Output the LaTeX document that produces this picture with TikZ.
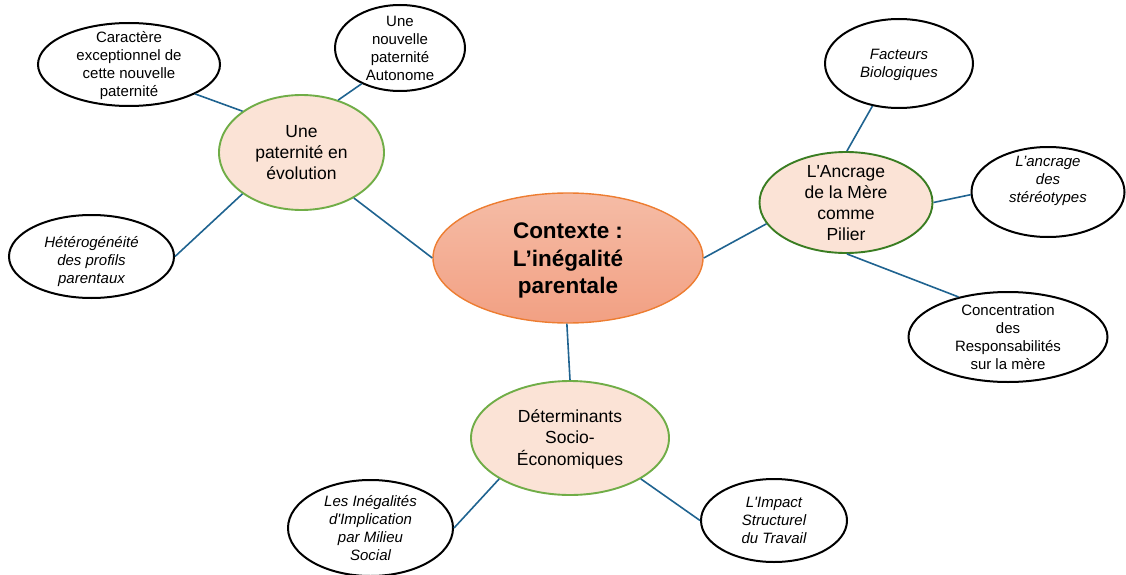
\documentclass[tikz,border=0pt]{standalone}
\usepackage{fontspec}
\setmainfont{Liberation Sans}
\usetikzlibrary{shapes.geometric}
\definecolor{linkblue}{HTML}{1F6390}
\definecolor{peach}{HTML}{FBE3D6}
\definecolor{leafgreen}{HTML}{70AD47}
\definecolor{darkgreen}{HTML}{3A7D22}
\definecolor{salmontop}{HTML}{F5BCA6}
\definecolor{salmonbot}{HTML}{F2A083}
\definecolor{salmonline}{HTML}{ED7D31}
\newcommand{\bubbletext}[2][-0.36em]{\smash{\raisebox{#1}{\begin{tabular}[c]{@{}c@{}}#2\end{tabular}}}}
\tikzset{
	leaf/.style={ellipse, draw=black, line width=2pt, fill=white, inner sep=0pt, font=\fontsize{15}{18}\selectfont},
	leafit/.style={leaf, font=\fontsize{15}{18}\selectfont\itshape},
	branch/.style={ellipse, draw=leafgreen, line width=1.9pt, fill=peach, inner sep=0pt, font=\fontsize{17.5}{21}\selectfont},
	link/.style={draw=linkblue, line width=1.6pt}
}

\begin{document}
\begin{tikzpicture}[x=1pt, y=-1pt]
		\useasboundingbox (0,0) rectangle (1126,575);
		\node[ellipse, draw=salmonline, line width=1.4pt, top color=salmontop, bottom color=salmonbot, inner sep=0pt, minimum width=270pt, minimum height=130pt, font=\fontsize{22.5}{27.5}\selectfont\bfseries] (Context) at (568,258) {\bubbletext{Contexte :\\L’inégalité\\parentale}};
		\node[branch, minimum width=165pt, minimum height=115pt] (Evolution) at (301.5,152.5) {\bubbletext{Une\\paternité en\\évolution}};
		\node[branch, draw=darkgreen, minimum width=173pt, minimum height=101pt] (Anchor) at (846,202.5) {\bubbletext{L\textquotesingle Ancrage\\de la Mère\\comme\\Pilier}};
		\node[branch, minimum width=198pt, minimum height=114pt] (Determinants) at (570,438) {\bubbletext{Déterminants\\Socio-\\Économiques}};
		\node[leaf, minimum width=182pt, minimum height=83pt] (Exception) at (129,64.5) {\bubbletext{Caractère\\exceptionnel de\\cette nouvelle\\paternité}};
		\node[leaf, minimum width=130pt, minimum height=86pt] (Autonomous) at (400,48) {\bubbletext{Une\\nouvelle\\paternité\\Autonome}};
		\node[leafit, minimum width=165pt, minimum height=83pt] (Heterogeneity) at (91.5,256.5) {\bubbletext[-8.5pt]{Hétérogénéité\\des profils\\parentaux}};
		\node[leafit, minimum width=148pt, minimum height=89pt] (Biology) at (899,63.5) {\bubbletext{Facteurs\\Biologiques}};
		\node[leafit, minimum width=153pt, minimum height=90pt] (Stereotypes) at (1048,192) {\bubbletext[8pt]{L’ancrage\\des\\stéréotypes}};
		\node[leaf, minimum width=199pt, minimum height=90pt] (Concentration) at (1008,337) {\bubbletext{Concentration\\des\\Responsabilités\\sur la mère}};
		\node[leafit, minimum width=165pt, minimum height=96pt] (Inequality) at (370.5,528) {\bubbletext{Les Inégalités\\d\textquotesingle Implication\\par Milieu\\Social}};
		\node[leafit, minimum width=146pt, minimum height=83pt] (Labour) at (774,520.5) {\bubbletext{L\textquotesingle Impact\\Structurel\\du Travail}};
		\draw[link] (Evolution.-41.5) -- (Context.180);
		\draw[link] (Evolution.145.3) -- (Exception.-24);
		\draw[link] (Evolution.55.7) -- (Autonomous.223.5);
		\draw[link] (Evolution.215.3) -- (Heterogeneity.0);
		\draw[link] (Context.0) -- (Anchor.195.2);
		\draw[link] (Anchor.89) -- (Biology.238.3);
		\draw[link] (Anchor.0) -- (Stereotypes.182);
		\draw[link] (Anchor.-89) -- (Concentration.141.8);
		\draw[link] (Context.-91) -- (Determinants.90);
		\draw[link] (Determinants.210.4) -- (Inequality.0);
		\draw[link] (Determinants.-30.4) -- (Labour.180);
	\end{tikzpicture}
\end{document}
